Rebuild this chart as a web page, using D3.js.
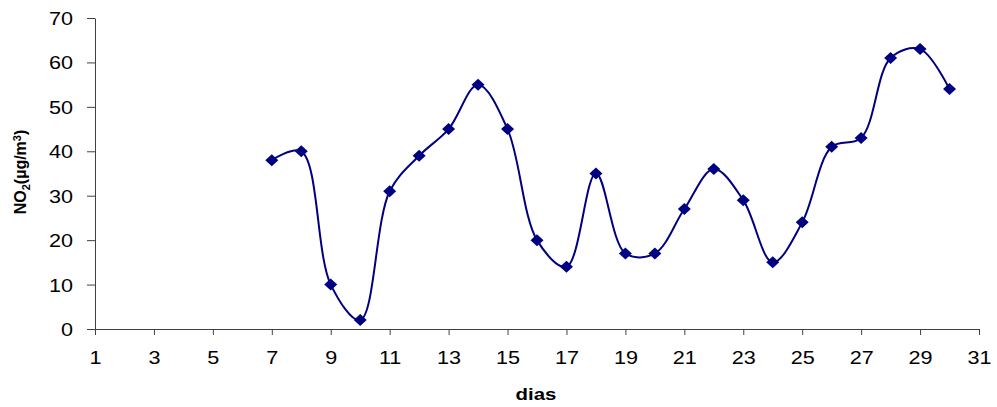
<!DOCTYPE html>
<html>
<head>
<meta charset="utf-8">
<script src="https://cdn.jsdelivr.net/npm/d3@7"></script>
<style>
  html, body { margin: 0; padding: 0; background: #fff; }
  svg { display: block; }
</style>
</head>
<body>
<svg id="chart" width="997" height="407"></svg>
<script>
const days = [7, 8, 9, 10, 11, 12, 13, 14, 15, 16, 17, 18, 19, 20, 21, 22, 23, 24, 25, 26, 27, 28, 29, 30];
const no2 = [38, 40, 10, 2, 31, 39, 45, 55, 45, 20, 14, 35, 17, 17, 27, 36, 29, 15, 24, 41, 43, 61, 63, 54];
const xTicks = [1, 3, 5, 7, 9, 11, 13, 15, 17, 19, 21, 23, 25, 27, 29, 31];
const yTicks = [0, 10, 20, 30, 40, 50, 60, 70];
const xTitle = "dias";

const svg = d3.select("#chart");
const x = d3.scaleLinear().domain([1, 31]).range([95, 979]);
const y = d3.scaleLinear().domain([0, 70]).range([329, 18]);
const axisColor = "#404040";
const fontFam = "'Liberation Sans', Arial, sans-serif";
const stretch = 1.2;

// X axis
const gx = svg.append("g").attr("transform", `translate(0,${y(0)})`)
  .call(d3.axisBottom(x).tickValues(xTicks).tickFormat(d3.format("d")).tickSize(6).tickSizeOuter(0));
gx.select(".domain").attr("stroke", axisColor);
gx.selectAll(".tick line").attr("stroke", axisColor);
gx.selectAll(".tick text")
  .attr("y", 35).attr("dy", 0)
  .attr("transform", `scale(${stretch},1)`)
  .attr("fill", "#000").style("font-family", fontFam).style("font-size", "18px");

// Y axis
const gy = svg.append("g").attr("transform", `translate(${x(1)},0)`)
  .call(d3.axisLeft(y).tickValues(yTicks).tickFormat(d3.format("d")).tickSize(8).tickSizeOuter(0));
gy.select(".domain").attr("stroke", axisColor);
gy.selectAll(".tick line").attr("stroke", axisColor);
gy.selectAll(".tick text")
  .attr("x", -22 / stretch).attr("dy", "0.36em")
  .attr("transform", `scale(${stretch},1)`)
  .attr("fill", "#000").style("font-family", fontFam).style("font-size", "18px");

// Axis titles
svg.append("text")
  .attr("transform", `translate(536,400) scale(${stretch},1)`)
  .attr("text-anchor", "middle")
  .style("font-family", fontFam).style("font-size", "17px").style("font-weight", "bold")
  .text(xTitle);

const yt = svg.append("text")
  .attr("transform", "translate(26,172) rotate(-90)")
  .attr("text-anchor", "middle")
  .style("font-family", fontFam).style("font-size", "16px").style("font-weight", "bold");
yt.append("tspan").text("NO");
yt.append("tspan").attr("dy", 4).style("font-size", "11px").text("2");
yt.append("tspan").attr("dy", -4).text("(µg/m");
yt.append("tspan").attr("dy", -5).style("font-size", "11px").text("3");
yt.append("tspan").attr("dy", 5).text(")");

// Line
const pts = days.map((d, i) => [d, no2[i]]);
const line = d3.line().x(d => x(d[0])).y(d => y(d[1])).curve(d3.curveCatmullRom.alpha(0.5));
svg.append("path").datum(pts)
  .attr("d", line)
  .attr("fill", "none").attr("stroke", "#000080").attr("stroke-width", 2);

// Diamond markers
svg.append("g").selectAll("path").data(pts).join("path")
  .attr("transform", d => `translate(${x(d[0])},${y(d[1])})`)
  .attr("d", "M0,-6L6.5,0L0,6L-6.5,0Z")
  .attr("fill", "#000080");
</script>
</body>
</html>
